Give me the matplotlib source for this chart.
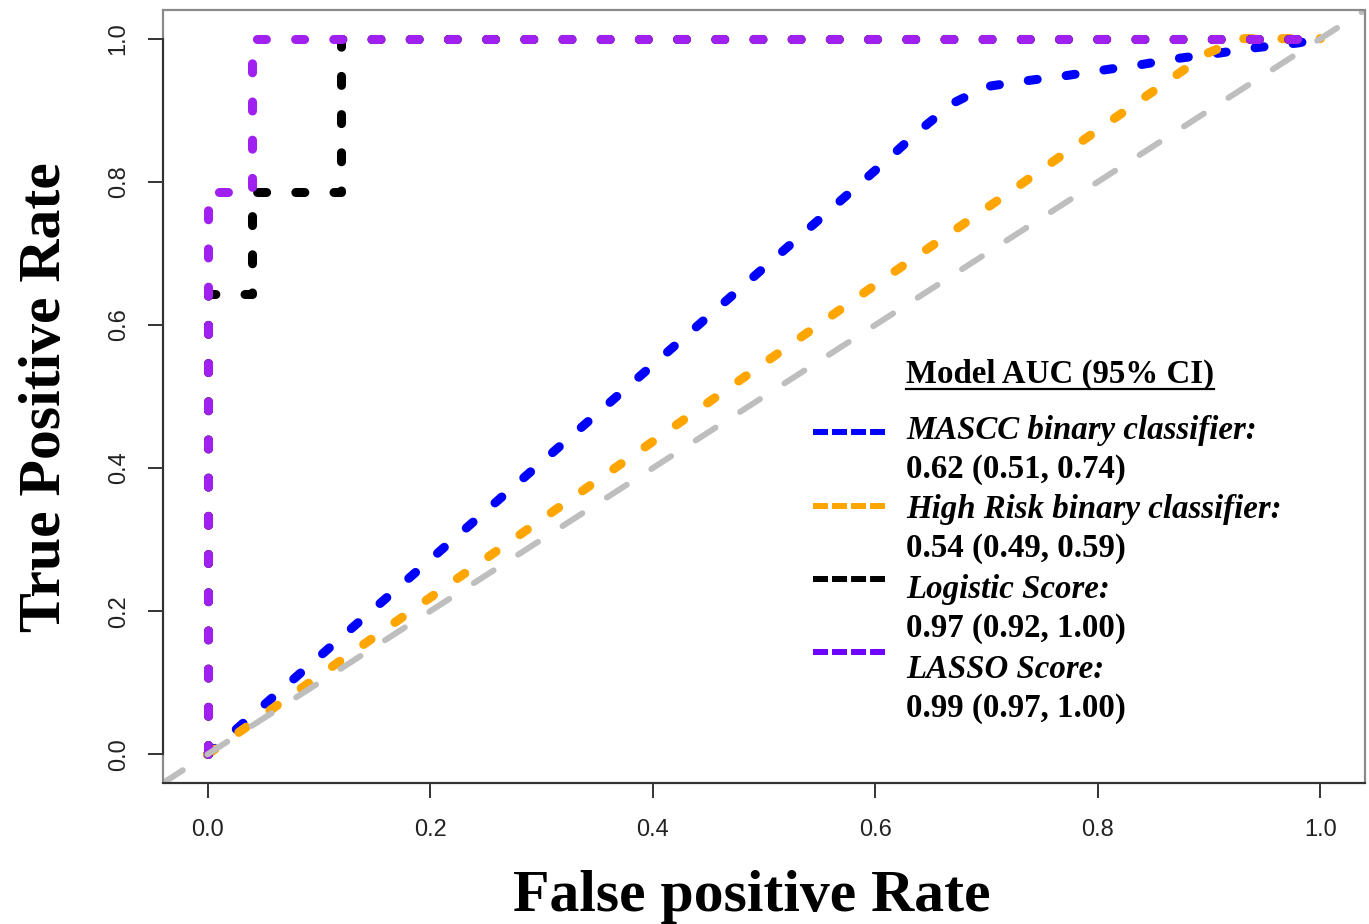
import matplotlib
matplotlib.use('Agg')
import matplotlib.pyplot as plt
from matplotlib.lines import Line2D
from matplotlib.patches import Rectangle

plt.rcParams['lines.scale_dashes'] = False

# ROC curves
mascc_fpr = [0, 0.1, 0.2, 0.3, 0.4, 0.5, 0.6, 0.64, 0.67, 0.70, 0.73, 0.77,
             0.80, 0.84, 0.87, 0.91, 0.94, 0.98, 1.0]
mascc_tpr = [0, 0.136, 0.272, 0.408, 0.544, 0.68, 0.816, 0.872, 0.91, 0.933,
             0.94, 0.948, 0.955, 0.964, 0.972, 0.98, 0.987, 0.994, 1.0]

highrisk_fpr = [0, 0.2, 0.4, 0.6, 0.724, 0.784, 0.841, 0.899, 0.93, 1.0]
highrisk_tpr = [0, 0.219, 0.437, 0.656, 0.789, 0.855, 0.917, 0.98, 1.0, 1.0]

logistic_fpr = [0, 0, 0.04, 0.04, 0.12, 0.12, 1.0]
logistic_tpr = [0, 0.643, 0.643, 0.786, 0.786, 1.0, 1.0]

lasso_fpr = [0, 0, 0.04, 0.04, 1.0]
lasso_tpr = [0, 0.786, 0.786, 1.0, 1.0]

ticks = [0.0, 0.2, 0.4, 0.6, 0.8, 1.0]
tick_labels = ['0.0', '0.2', '0.4', '0.6', '0.8', '1.0']

legend_title = 'Model AUC (95% CI)'
legend_names = ['MASCC binary classifier:', 'High Risk binary classifier:',
                'Logistic Score:', 'LASSO Score:']
legend_aucs = ['0.62 (0.51, 0.74)', '0.54 (0.49, 0.59)',
               '0.97 (0.92, 1.00)', '0.99 (0.97, 1.00)']
legend_colors = ['#0000FF', '#FFA500', '#000000', '#6E00FF']

W, H = 1369, 924


def px(x, y):
    return x / W, 1 - y / H


fig = plt.figure(figsize=(W / 100, H / 100), dpi=100)
ax = fig.add_axes([163 / W, 1 - 783 / H, (1365 - 163) / W, (783 - 10) / H])
ax.set_xlim(-0.04, 1.04)
ax.set_ylim(-0.04, 1.04)

dash = dict(linewidth=6.5, dashes=(6.5, 21), dash_capstyle='round',
            solid_capstyle='round')
ax.plot(mascc_fpr, mascc_tpr, color='#0000FF', **dash)
ax.plot(highrisk_fpr, highrisk_tpr, color='#FFA500', **dash)
ax.plot(logistic_fpr, logistic_tpr, color='#000000', **dash)
ax.plot(lasso_fpr, lasso_tpr, color='#A020F0', **dash)
ax.axline((0, 0), (1, 1), color='#BEBEBE', linewidth=4.3, dashes=(17, 21),
          dash_capstyle='round')

# box and axis lines, R style
ax.add_patch(Rectangle((0, 0), 1, 1, transform=ax.transAxes, fill=False,
                       edgecolor='#8a8a8a', linewidth=1.6, zorder=5,
                       clip_on=False))
for side in ['top', 'right']:
    ax.spines[side].set_visible(False)
ax.spines['left'].set_bounds(0, 1)
for side in ['left', 'bottom']:
    ax.spines[side].set_color('#333333')
    ax.spines[side].set_linewidth(1.5)
    ax.spines[side].set_zorder(6)

ax.set_xticks(ticks)
ax.set_xticklabels(tick_labels, family='Liberation Sans', fontsize=17,
                   color='#222222')
ax.set_yticks(ticks)
ax.set_yticklabels(tick_labels, family='Liberation Sans', fontsize=17,
                   color='#222222', rotation=90, va='center')
ax.tick_params(axis='both', length=11, width=1.4, color='#333333')
ax.tick_params(axis='x', pad=15)
ax.tick_params(axis='y', pad=13)

serif = 'Liberation Serif'
fig.text(*px(752, 911), 'False positive Rate', family=serif, weight='bold',
         fontsize=43, ha='center', va='baseline')
fig.text(*px(60, 397), 'True Positive Rate', family=serif, weight='bold',
         fontsize=43, ha='center', va='baseline', rotation=90,
         rotation_mode='anchor')

# legend drawn by hand
fs = 23.7
title = fig.text(*px(906, 383), legend_title, family=serif, weight='bold',
                 fontsize=fs, ha='left', va='baseline')
fig.canvas.draw()
bb = title.get_window_extent()
fig.add_artist(Line2D([bb.x0 / W, bb.x1 / W], [px(0, 389)[1]] * 2,
                      transform=fig.transFigure, color='black', linewidth=1.6))

name_y = [439, 518, 598, 678]
auc_y = [478, 557, 637, 717]
line_y = [432, 506, 579, 652]
for name, auc, c, ny, ay, ly in zip(legend_names, legend_aucs, legend_colors,
                                   name_y, auc_y, line_y):
    fig.text(*px(906, ny), name, family=serif, weight='bold', style='italic',
             fontsize=fs, ha='left', va='baseline')
    fig.text(*px(906, ay), auc, family=serif, weight='bold',
             fontsize=fs, ha='left', va='baseline')
    x0, yy = px(813, ly)
    x1, _ = px(885, ly)
    fig.add_artist(Line2D([x0, x1], [yy, yy], transform=fig.transFigure,
                          color=c, linewidth=4.3, dashes=(10.8, 2.9),
                          dash_capstyle='butt'))

fig.savefig('out.png', dpi=100)
